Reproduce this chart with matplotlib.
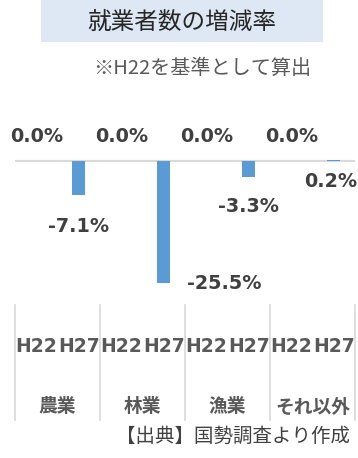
import matplotlib.pyplot as plt
import matplotlib.transforms as mtransforms
from matplotlib.patches import Rectangle

# 就業者数の増減率（H22基準）
categories = ['農業', '林業', '漁業', 'それ以外']
years = ['H22', 'H27']
h22_rate = [0.0, 0.0, 0.0, 0.0]
h27_rate = [-7.1, -25.5, -3.3, 0.2]

# per-label pixel offsets for the H27 value labels
h27_label_offsets = [(0, -31), (60, 0), (0, -30), (-3, -21)]

JP = ['Noto Sans CJK JP', 'DejaVu Sans']
NUM = ['DejaVu Sans', 'Noto Sans CJK JP']
BAR = '#5b9bd5'
GRID = '#d9d9d9'

W, H = 358, 458
fig = plt.figure(figsize=(W / 100, H / 100), dpi=100)

# title band
fig.patches.append(Rectangle((41 / W, 1 - 42 / H), 282 / W, 42 / H,
                             transform=fig.transFigure, facecolor='#dde8f4',
                             edgecolor='none', zorder=0))
fig.text(182 / W, 1 - 22 / H, '就業者数の増減率', family=JP, fontsize=17,
         color='#262626', ha='center', va='center')
fig.text(311 / W, 1 - 68 / H, '※H22を基準として算出', family=JP, fontsize=14.5,
         color='#595959', ha='right', va='center')
fig.text(350 / W, 1 - 436 / H, '【出典】国勢調査より作成', family=JP, fontsize=14,
         color='#404040', ha='right', va='center')

ax = fig.add_axes([15 / W, (H - 300) / H, 340 / W, 180 / H])
n = len(categories)
x22 = [2 * i for i in range(n)]
x27 = [2 * i + 1 for i in range(n)]

ax.bar(x22, h22_rate, width=0.3, color=BAR)
ax.bar(x27, h27_rate, width=0.3, color=BAR)
ax.axhline(0, color=GRID, lw=1.5, zorder=0)

ax.set_xlim(-0.5, 2 * n - 0.5)
ax.set_ylim(-(300 - 161) / 4.8, (161 - 120) / 4.8)
ax.axis('off')

lbl = dict(family=NUM, fontsize=13.8, fontweight='bold', color='#404040',
           ha='center', va='center', textcoords='offset pixels')
for x, v in zip(x22, h22_rate):
    ax.annotate(f'{v:.1f}%', (x, v), xytext=(0, 25), **lbl)
for x, v, off in zip(x27, h27_rate, h27_label_offsets):
    ax.annotate(f'{v:.1f}%', (x, v), xytext=off, **lbl)

# two-level category axis under the plot
tr = mtransforms.blended_transform_factory(ax.transData, ax.transAxes)
for i in range(n + 1):
    ax.plot([2 * i - 0.5] * 2, [-5 / 180, -120 / 180], color=GRID, lw=1.2,
            transform=tr, clip_on=False)
for i, cat in enumerate(categories):
    for j, yr in enumerate(years):
        ax.text(2 * i + j, -47 / 180, yr, family=NUM, fontsize=13.5,
                fontweight='bold', color='#595959', ha='center', va='center',
                transform=tr)
    ax.text(2 * i + 0.5, -107 / 180, cat, family=JP, fontsize=13.5,
            fontweight='bold', color='#595959', ha='center', va='center',
            transform=tr)

fig.savefig('out.png', dpi=100)
